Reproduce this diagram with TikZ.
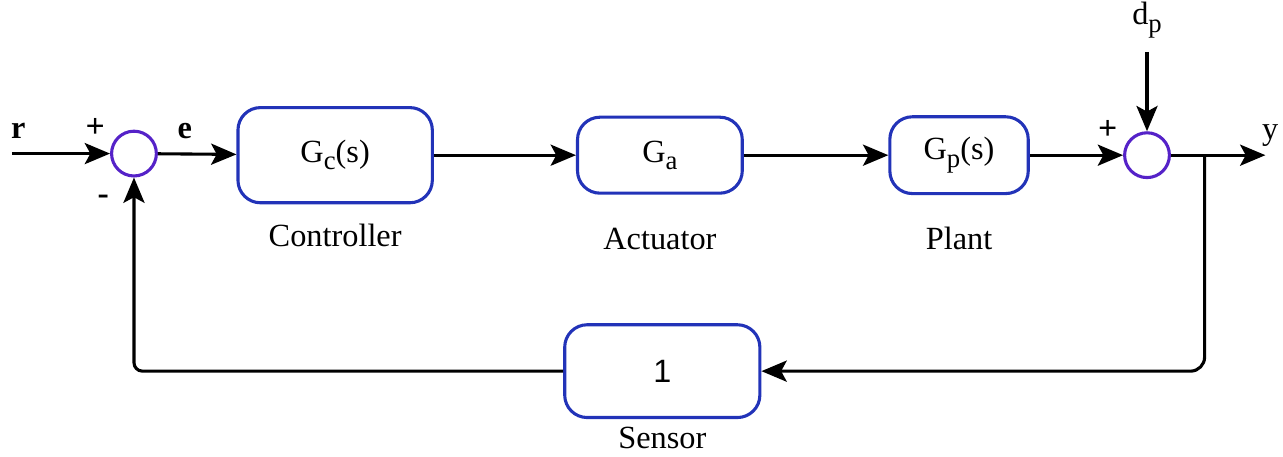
\documentclass[tikz,border=0pt]{standalone}
\usepackage{fontspec}
\setmainfont{Liberation Serif}
\setsansfont{Liberation Sans}
\usepackage{xcolor}
\definecolor{blockblue}{HTML}{2233B8}
\definecolor{sumpurple}{HTML}{5522C8}
\usetikzlibrary{arrows.meta, positioning}
\newcommand{\lowsub}[1]{\raisebox{-0.5ex}{\fontsize{9.5}{10}\selectfont #1}}

\begin{document}
\begin{tikzpicture}[
    block/.style={rectangle, rounded corners=8pt, draw=blockblue, line width=1.1pt, align=center, font=\fontsize{11.5}{14}\selectfont},
    sumnode/.style={circle, draw=sumpurple, line width=1.1pt, minimum size=0.56cm, inner sep=0pt},
    arr/.style={-{Stealth[length=9pt, width=7.5pt, inset=2pt]}, line width=1.1pt},
    lbl/.style={font=\fontsize{11.5}{14}\selectfont},
    sign/.style={font=\bfseries\fontsize{12}{14}\selectfont},
]
    \useasboundingbox (0,0) rectangle (16.04,-5.71);

    % Forward path
    \node[sumnode] (sum1) at (1.675,-1.92) {};
    \node[block, minimum width=2.43cm, minimum height=1.19cm] (ctrl) at (4.19,-1.94) {G\lowsub{c}(s)};
    \node[block, minimum width=2.06cm, minimum height=0.95cm] (act) at (8.25,-1.94) {G\lowsub{a}};
    \node[block, minimum width=1.73cm, minimum height=0.96cm] (plant) at (11.99,-1.94) {G\lowsub{p}(s)};
    \node[sumnode] (sum2) at (14.34,-1.94) {};
    \node[block, minimum width=2.44cm, minimum height=1.16cm, font=\sffamily\fontsize{11.5}{14}\selectfont] (sens) at (8.28,-4.64) {1};

    % Block labels
    \node[lbl, below=0.12cm of ctrl] {Controller};
    \node[lbl, below=0.3cm of act] {Actuator};
    \node[lbl, below=0.28cm of plant] {Plant};
    \node[lbl] at (8.28,-5.47) {Sensor};

    % Free ends
    \coordinate (rin) at (0.15,-1.92);
    \coordinate (dtop) at (14.34,-0.65);
    \coordinate (yout) at (15.82,-1.94);
    \coordinate (br) at (15.06,-1.94);

    \draw[arr] (rin) -- (sum1);
    \draw[arr] (sum1) -- (ctrl);
    \draw[arr] (ctrl) -- (act);
    \draw[arr] (act) -- (plant);
    \draw[arr] (plant) -- (sum2);
    \draw[arr] (dtop) -- (sum2);
    \draw[arr] (sum2) -- (yout);
    \draw[arr, rounded corners=5pt] (br) |- (sens.east);
    \draw[arr, rounded corners=3pt] (sens.west) -| (sum1.south);

    % Signal labels and signs
    \node[lbl] (rlbl) at (0.23,-1.63) {\textbf{r}};
    \node[lbl] (elbl) at (2.31,-1.64) {\textbf{e}};
    \node[lbl] (ylbl) at (15.88,-1.69) {y};
    \node[lbl, above=0.05cm of dtop] (dlbl) {d\lowsub{p}};
    \node[sign] (p1) at (1.19,-1.6) {+};
    \node[sign] (m1) at (1.29,-2.5) {-};
    \node[sign] (p2) at (13.85,-1.62) {+};
\end{tikzpicture}
\end{document}
